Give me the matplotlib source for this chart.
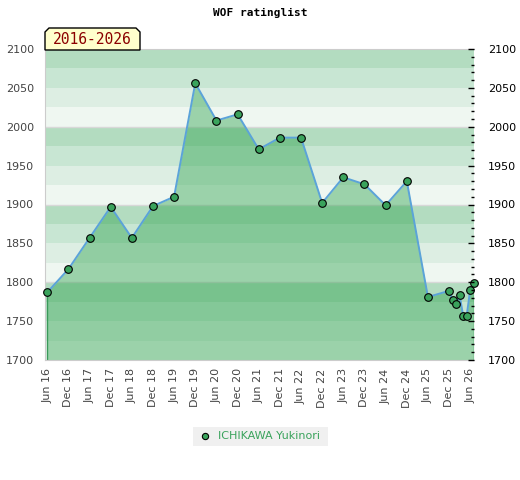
import matplotlib
matplotlib.use("Agg")
import matplotlib.pyplot as plt
from matplotlib.patches import Polygon, Rectangle
from matplotlib.lines import Line2D
from matplotlib.ticker import MultipleLocator
import pandas as pd

# rating list dates and ratings
dates = ["2016-06-01", "2016-12-01", "2017-06-01", "2017-12-01", "2018-06-01",
         "2018-12-01", "2019-06-01", "2019-12-01", "2020-06-01", "2020-12-01",
         "2021-06-01", "2021-12-01", "2022-06-01", "2022-12-01", "2023-06-01",
         "2023-12-01", "2024-06-01", "2024-12-01", "2025-06-01", "2025-12-01",
         "2026-01-01", "2026-02-01", "2026-03-01", "2026-04-01", "2026-05-01",
         "2026-06-01", "2026-07-01"]
ratings = [1787, 1817, 1857, 1897, 1857, 1898, 1910, 2056, 2008, 2016,
           1971, 1986, 1986, 1902, 1935, 1926, 1899, 1930, 1781, 1789,
           1777, 1772, 1784, 1757, 1756, 1790, 1799]
tick_dates = pd.date_range("2016-06-01", "2026-06-01", freq="6MS")
tick_labels = [d.strftime("%b %y") for d in tick_dates]
player = "ICHIKAWA Yukinori"
period = "2016-2026"
title = "WOF ratinglist"

x = pd.to_datetime(dates)

fig = plt.figure(figsize=(5.2, 4.8), dpi=100)
ax = fig.add_axes([45.3 / 520, 1 - 360 / 480, (474 - 45.3) / 520, (360 - 49) / 480])

# striped background, 4 shades per 100 points
shades = ['#eff7f1', '#ddeee3', '#c8e6d3', '#b3dcc0']
for i in range(16):
    ax.axhspan(1700 + 25 * i, 1725 + 25 * i, color=shades[i % 4], lw=0, zorder=0)
for yv in [1800, 1900, 2000]:
    ax.axhline(yv, color='#d8d8d8', lw=1, zorder=0.5)

ax.fill_between(x, ratings, 1700, color=(40/255, 160/255, 72/255), alpha=0.42, lw=0, zorder=1)
ax.vlines([x[0], x[-1]], 1700, [ratings[0], ratings[-1]], color='#3a9a5a', lw=1, zorder=2)
ax.plot(x, ratings, color='#5ba3d9', lw=1.4, zorder=3)
ax.plot(x, ratings, 'o', ms=5.5, mfc='#3aa35c', mec='black', mew=0.8, zorder=4, clip_on=False)

ax.set_ylim(1700, 2100)
ax.set_xlim(x[0] - pd.Timedelta(days=17), x[-1] + pd.Timedelta(days=3))

ax.set_xticks(tick_dates)
ax.set_xticklabels(tick_labels, rotation=90, fontsize=8, color='#444444')
ax.tick_params(axis='x', length=0, pad=6)
ax.yaxis.set_major_locator(MultipleLocator(50))
ax.tick_params(axis='y', length=0, labelsize=8, labelcolor='#444444', pad=8)

for s in ['left', 'bottom', 'top']:
    ax.spines[s].set_color('#cccccc')
ax.spines['right'].set_visible(False)

# right axis with inward ticks
ax2 = ax.twinx()
ax2.set_ylim(1700, 2100)
ax2.yaxis.set_major_locator(MultipleLocator(50))
ax2.yaxis.set_minor_locator(MultipleLocator(10))
ax2.tick_params(axis='y', which='major', direction='in', length=4, width=1, labelsize=8,
                labelcolor='black', pad=10)
ax2.tick_params(axis='y', which='minor', direction='in', length=2.5, width=1)
for s in ax2.spines.values():
    s.set_visible(False)

fig.text(260 / 520, 1 - 13 / 480, title, ha='center', va='center',
         family='DejaVu Sans Mono', weight='bold', fontsize=8)

# period label box with cut corners
bx0, bx1, by0, by1, c = 45 / 520, 140 / 520, 1 - 50 / 480, 1 - 28 / 480, 4
cx, cy = c / 520, c / 480
box = Polygon([(bx0, by0), (bx0, by1 - cy), (bx0 + cx, by1), (bx1 - cx, by1),
               (bx1, by1 - cy), (bx1, by0)], closed=True, transform=fig.transFigure,
              fc='#ffffcc', ec='black', lw=1, zorder=10)
fig.patches.append(box)
fig.text((bx0 + bx1) / 2, (by0 + by1) / 2, period, ha='center', va='center',
         family='DejaVu Sans Mono', fontsize=10.5, color='#8b0000', zorder=11)

# legend
fig.patches.append(Rectangle((193 / 520, 1 - 446 / 480), 135 / 520, 19 / 480,
                             transform=fig.transFigure, fc='#f0f0f0', ec='none'))
fig.lines.append(Line2D([205 / 520], [1 - 436 / 480], transform=fig.transFigure,
                        marker='o', ms=4.5, mfc='#3aa35c', mec='black', mew=0.8, ls='none'))
fig.text(218 / 520, 1 - 436 / 480, player, ha='left', va='center', fontsize=8,
         color='#3aa35c')

fig.savefig("out.png", dpi=100)
